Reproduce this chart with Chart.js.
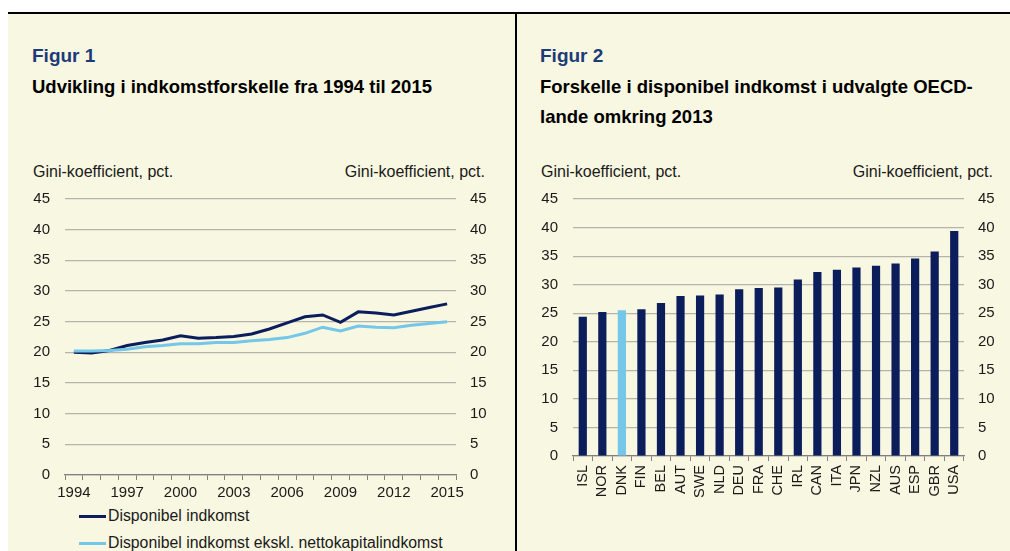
<!DOCTYPE html>
<html>
<head>
<meta charset="utf-8">
<script src="https://cdn.jsdelivr.net/npm/chart.js@4"></script>
<style>
  body { margin: 0; background: #fff; font-family: "Liberation Sans", Arial, sans-serif; color: #111; }
  #frame { position: absolute; left: 8px; top: 12px; width: 1002px; height: 537px; background: #F8F7E1; border-top: 2px solid #000; }
  #divider { position: absolute; left: 515px; top: 12px; width: 2px; height: 539px; background: #000; }
  .txt { position: absolute; white-space: nowrap; line-height: 1; }
  .fig { font-size: 19px; font-weight: bold; color: #1C3B78; top: 46px; }
  .ttl { font-size: 18.5px; font-weight: bold; line-height: 30px; top: 72px; color: #000; }
  .unit { font-size: 16px; top: 164px; color: #1a1a1a; }
  .leg { font-size: 15.8px; color: #1a1a1a; }
  .legline { position: absolute; width: 27px; height: 3px; }
  canvas { position: absolute; }
</style>
</head>
<body>
<div id="frame"></div>
<div id="divider"></div>

<div class="txt fig" style="left:32px">Figur 1</div>
<div class="txt ttl" style="left:32px">Udvikling i indkomstforskelle fra 1994 til 2015</div>
<div class="txt unit" style="left:33px">Gini-koefficient, pct.</div>
<div class="txt unit" style="left:285px;width:200px;text-align:right">Gini-koefficient, pct.</div>

<div class="txt fig" style="left:540px">Figur 2</div>
<div class="txt ttl" style="left:540px">Forskelle i disponibel indkomst i udvalgte OECD-<br>lande omkring 2013</div>
<div class="txt unit" style="left:541px">Gini-koefficient, pct.</div>
<div class="txt unit" style="left:793px;width:200px;text-align:right">Gini-koefficient, pct.</div>

<canvas id="lineChart" width="498" height="332" style="left:8px;top:175px"></canvas>
<canvas id="barChart" width="493" height="331" style="left:517px;top:175px"></canvas>

<div class="legline" style="left:79px;top:515px;background:#0B1E5B"></div>
<div class="txt leg" style="left:108px;top:508px">Disponibel indkomst</div>
<div class="legline" style="left:79px;top:542px;background:#74C7E8"></div>
<div class="txt leg" style="left:108px;top:535px">Disponibel indkomst ekskl. nettokapitalindkomst</div>

<script>
// data fra figurerne
var years = ['1994', '1995', '1996', '1997', '1998', '1999', '2000', '2001', '2002', '2003', '2004',
  '2005', '2006', '2007', '2008', '2009', '2010', '2011', '2012', '2013', '2014', '2015'];
var dispIndkomst = [20.0, 19.9, 20.3, 21.1, 21.6, 22.0, 22.7, 22.3, 22.4, 22.6, 23.0,
  23.8, 24.8, 25.8, 26.1, 24.9, 26.6, 26.4, 26.1, 26.7, 27.3, 27.9];
var dispEksklKapital = [20.2, 20.2, 20.3, 20.5, 20.9, 21.1, 21.4, 21.4, 21.6, 21.6, 21.9,
  22.1, 22.4, 23.1, 24.1, 23.5, 24.3, 24.1, 24.0, 24.4, 24.7, 25.0];

var countries = ['ISL', 'NOR', 'DNK', 'FIN', 'BEL', 'AUT', 'SWE', 'NLD', 'DEU', 'FRA',
  'CHE', 'IRL', 'CAN', 'ITA', 'JPN', 'NZL', 'AUS', 'ESP', 'GBR', 'USA'];
var gini2013 = [24.4, 25.2, 25.5, 25.7, 26.8, 28.0, 28.1, 28.3, 29.2, 29.4,
  29.5, 30.9, 32.2, 32.6, 33.0, 33.3, 33.7, 34.6, 35.8, 39.4];
var highlight = 'DNK';

var yMin = 0, yMax = 45, yStep = 5;

var navy = '#0B1E5B';
var lightBlue = '#74C7E8';
var gridGray = '#B4B4AC';
var axisGray = '#808080';
var tickFont = { family: '"Liberation Sans", Arial, sans-serif', size: 15 };

Chart.defaults.color = '#1a1a1a';
Chart.defaults.animation = false;

// faelles y-akser (venstre med gitter, hoejre kun tal)
function yAxes(leftW, rightW) {
  return {
    y: {
      position: 'left', min: yMin, max: yMax,
      ticks: { stepSize: yStep, padding: 15, font: tickFont },
      grid: { color: gridGray, lineWidth: 1.2, drawTicks: false },
      border: { display: false },
      afterFit: function(s) { s.width = leftW; }
    },
    y2: {
      position: 'right', min: yMin, max: yMax,
      ticks: { stepSize: yStep, padding: 14, font: tickFont },
      grid: { drawOnChartArea: false, drawTicks: false },
      border: { display: false },
      afterFit: function(s) { s.width = rightW; }
    }
  };
}

var lineScales = yAxes(57, 50);
lineScales.x = {
  offset: true,
  grid: { offset: true, drawOnChartArea: false, drawTicks: true, tickLength: 5, tickColor: axisGray },
  border: { color: axisGray, width: 1.3 },
  ticks: {
    autoSkip: false, maxRotation: 0, padding: 4, font: tickFont,
    callback: function(v, i) { return i % 3 === 0 ? years[i] : ''; }
  },
  afterFit: function(s) { s.height = 32; }
};

new Chart(document.getElementById('lineChart'), {
  type: 'line',
  data: {
    labels: years,
    datasets: [{
      label: 'Disponibel indkomst',
      data: dispIndkomst,
      borderColor: navy,
      borderWidth: 3,
      pointRadius: 0,
      tension: 0,
      order: 2
    }, {
      label: 'Disponibel indkomst ekskl. nettokapitalindkomst',
      data: dispEksklKapital,
      borderColor: lightBlue,
      borderWidth: 3,
      pointRadius: 0,
      tension: 0,
      order: 1
    }]
  },
  options: {
    responsive: false,
    layout: { padding: { top: 4, left: 0, right: 0, bottom: 0 } },
    plugins: { legend: { display: false }, tooltip: { enabled: false } },
    scales: lineScales
  }
});

var barScales = yAxes(56, 46);
barScales.x = {
  grid: { offset: true, drawOnChartArea: false, drawTicks: true, tickLength: 5, tickColor: axisGray },
  border: { color: axisGray, width: 1.3 },
  ticks: { autoSkip: false, minRotation: 90, maxRotation: 90, padding: 4,
    font: { family: tickFont.family, size: 14.5 } },
  afterFit: function(s) { s.height = 50; }
};

new Chart(document.getElementById('barChart'), {
  type: 'bar',
  data: {
    labels: countries,
    datasets: [{
      label: 'Gini 2013',
      data: gini2013,
      backgroundColor: countries.map(function(c) { return c === highlight ? lightBlue : navy; }),
      categoryPercentage: 1,
      barPercentage: 0.42
    }]
  },
  options: {
    responsive: false,
    layout: { padding: { top: 5, left: 0, right: 0, bottom: 0 } },
    plugins: { legend: { display: false }, tooltip: { enabled: false } },
    scales: barScales
  }
});
</script>
</body>
</html>
